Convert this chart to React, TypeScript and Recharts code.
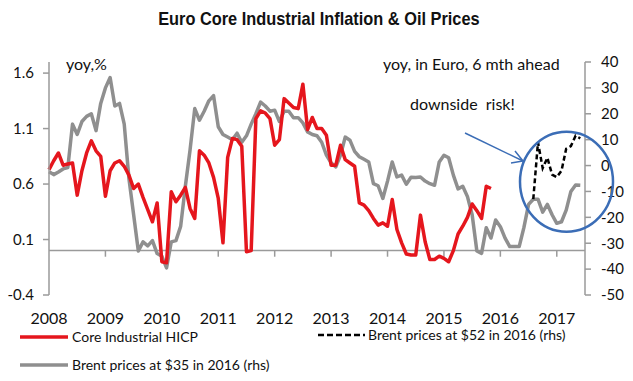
import React from "react";
import {
  LineChart,
  Line,
  XAxis,
  YAxis,
  ReferenceLine,
} from "recharts";

// month index 0 = Jan 2008
const yearLabels = ["2008", "2009", "2010", "2011", "2012", "2013", "2014", "2015", "2016", "2017"];
const leftTicks = [-0.4, 0.1, 0.6, 1.1, 1.6];
const rightTicks = [-50, -40, -30, -20, -10, 0, 10, 20, 30, 40];

// Core Industrial HICP, yoy % (lhs), Jan 2008 .. Nov 2015
const coreHicp = [
  0.73, 0.81, 0.88, 0.77, 0.78, 0.79, 0.5, 0.72, 0.88, 0.99, 0.9, 0.85,
  0.49, 0.72, 0.79, 0.81, 0.76, 0.68, 0.56, 0.6, 0.48, 0.37, 0.26, 0.43,
  -0.1, -0.11, 0.53, 0.44, 0.5, 0.57, 0.38, 0.29, 0.9, 0.86, 0.79, 0.66,
  0.47, 0.07, 0.84, 1.01, 1.0, 0.94, -0.01, 0.0, 1.19, 1.26, 1.24, 1.19,
  0.95, 1.0, 1.37, 1.33, 1.29, 1.28, 1.5, 1.09, 1.2, 1.1, 1.1, 1.04,
  0.77, 0.77, 0.95, 0.82, 0.79, 0.76, 0.43, 0.41, 0.36, 0.29, 0.23, 0.25,
  0.22, 0.46, 0.19, 0.07, -0.03, -0.04, -0.04, 0.32, 0.08, -0.08, -0.08, -0.05,
  -0.07, -0.1, 0.0, 0.15, 0.22, 0.3, 0.42, 0.36, 0.29, 0.58, 0.56,
];

// Brent at $35 in 2016, yoy in Euro, 6 mth ahead (rhs), Jan 2008 .. Jun 2017
const brent35 = [
  -2.4, -3.5, -2.5, -1.3, -0.8, 16, 12, 17, 19, 20, 13.5, 24,
  30, 34, 23, 24, 16, -5, -19, -33, -29.5, -31, -29, -34,
  -35, -39.5, -29.5, -29, -23.5, -8, 6, 22, 17.5, 21, 25, 27,
  15, 12, 11, 10, 12.5, 9, 11.5, 16, 20, 24.5, 23, 21,
  21.4, 17, 21, 21, 18.5, 18.5, 16.5, 13, 12, 11.5, 9, 4,
  1, -0.5, 4, 11, 9.8, 5.5, 3.4, 2.4, 1.4, -7, -7.8, -12.7,
  -6, 1.4, -4.4, -3.7, -7.2, -4.5, -4.6, -4.4, -6, -7, -7.6, 1.4,
  4, 3, -3.7, -9, -8, -12, -19, -33, -33.9, -24, -28, -21,
  -23.6, -28, -31.3, -31.3, -31.3, -24, -15, -13, -13, -18, -15, -19,
  -22.3, -21.7, -17.2, -10, -7.5, -7.6,
];

// Brent at $52 in 2016 (rhs), Aug 2016 .. Jun 2017
const brent52Start = 103;
const brent52 = [-13, 9, -1, 3, -3.5, -4.5, -2, 6.5, 7.5, 11.5, 10.5];

const data = brent35.map((v, m) => ({
  m,
  core: m < coreHicp.length ? coreHicp[m] : null,
  brent35: v,
  brent52: m >= brent52Start ? brent52[m - brent52Start] : null,
}));

const yearTicks = yearLabels.map((_, i) => i * 12);

const RED = "#E5161D";
const GREY = "#8F8F8F";
const AXIS = "#9a9a9a";
const FONT = "Lato, 'Open Sans', sans-serif";

export default function App() {
  return (
    <div
      style={{
        position: "absolute",
        left: 0,
        top: 0,
        width: 633,
        height: 381,
        background: "#fff",
        fontFamily: FONT,
        color: "#111",
      }}
    >
      <div
        style={{
          position: "absolute",
          top: 8,
          left: 0,
          width: 633,
          textAlign: "center",
        }}
      >
        <span
          style={{
            display: "inline-block",
            fontFamily: "'Liberation Sans', Arial, sans-serif",
            fontWeight: 700,
            fontSize: 19,
            transform: "scaleX(0.86)",
            transformOrigin: "center",
            marginLeft: 4,
          }}
        >
          Euro Core Industrial Inflation &amp; Oil Prices
        </span>
      </div>

      <LineChart
        width={633}
        height={381}
        data={data}
        margin={{ top: 62, right: 0, bottom: 46, left: 0 }}
      >
        <XAxis
          dataKey="m"
          type="number"
          domain={[0, 114]}
          ticks={yearTicks}
          tickFormatter={(m) => yearLabels[Math.round(m / 12)]}
          axisLine={false}
          tickLine={false}
          tickSize={0}
          tickMargin={18}
          height={40}
          tick={{ fill: "#111", fontSize: 16, fontFamily: FONT }}
          interval={0}
        />
        <YAxis
          yAxisId="left"
          orientation="left"
          domain={[-0.4, 1.7]}
          ticks={leftTicks}
          width={49}
          axisLine={{ stroke: AXIS, strokeWidth: 1.5 }}
          tickLine={{ stroke: AXIS, strokeWidth: 1.5 }}
          tickSize={6}
          tickMargin={9}
          tick={{ fill: "#111", fontSize: 15, fontFamily: FONT }}
          interval={0}
        />
        <YAxis
          yAxisId="right"
          orientation="right"
          domain={[-50, 40]}
          ticks={rightTicks}
          width={48}
          axisLine={{ stroke: AXIS, strokeWidth: 1.5 }}
          tickLine={{ stroke: AXIS, strokeWidth: 1.5 }}
          tickSize={6}
          tickMargin={10}
          tick={{ fill: "#111", fontSize: 15, fontFamily: FONT }}
          interval={0}
        />
        <ReferenceLine yAxisId="left" y={0} stroke={AXIS} strokeWidth={1.5} />
        {yearTicks.slice(1).map((m) => (
          <ReferenceLine
            key={m}
            yAxisId="left"
            segment={[
              { x: m, y: 0 },
              { x: m, y: -0.055 },
            ]}
            stroke={AXIS}
            strokeWidth={1.5}
          />
        ))}
        <Line
          yAxisId="right"
          dataKey="brent35"
          stroke={GREY}
          strokeWidth={3.5}
          dot={false}
          strokeLinejoin="round"
          isAnimationActive={false}
        />
        <Line
          yAxisId="left"
          dataKey="core"
          stroke={RED}
          strokeWidth={3.5}
          dot={false}
          strokeLinejoin="round"
          isAnimationActive={false}
        />
        <Line
          yAxisId="right"
          dataKey="brent52"
          stroke="#000"
          strokeWidth={2.5}
          strokeDasharray="5 3"
          dot={false}
          isAnimationActive={false}
        />
      </LineChart>

      <svg
        width={633}
        height={381}
        style={{ position: "absolute", left: 0, top: 0, pointerEvents: "none" }}
      >
        <text x={66} y={70} fontSize={16} fontFamily={FONT} fill="#111">
          yoy,%
        </text>
        <text x={383} y={70} fontSize={16} fontFamily={FONT} fill="#111">
          yoy, in Euro, 6 mth ahead
        </text>
        <text x={410} y={110} fontSize={16} fontFamily={FONT} fill="#111" xmlSpace="preserve">
          downside  risk!
        </text>
        <ellipse cx={566.5} cy={181.7} rx={46.5} ry={50} fill="none" stroke="#3B6DB6" strokeWidth={2.5} />
        <line x1={465} y1={133} x2={523} y2={161} stroke="#3B6DB6" strokeWidth={1.5} />
        <polyline points="511,163 523,161 515,151" fill="none" stroke="#3B6DB6" strokeWidth={1.5} />

        {/* legend */}
        <line x1={20} y1={337} x2={68} y2={337} stroke={RED} strokeWidth={3.5} />
        <text x={72} y={342} fontSize={14} fontFamily={FONT} fill="#111">
          Core Industrial HICP
        </text>
        <line x1={318} y1={335} x2={365} y2={335} stroke="#000" strokeWidth={2.5} strokeDasharray="6 3" />
        <text x={368} y={340} fontSize={14} fontFamily={FONT} fill="#111">
          Brent prices at $52 in 2016 (rhs)
        </text>
        <line x1={20} y1={365} x2={68} y2={365} stroke={GREY} strokeWidth={3.5} />
        <text x={72} y={370} fontSize={14} fontFamily={FONT} fill="#111">
          Brent prices at $35 in 2016 (rhs)
        </text>
      </svg>
    </div>
  );
}
